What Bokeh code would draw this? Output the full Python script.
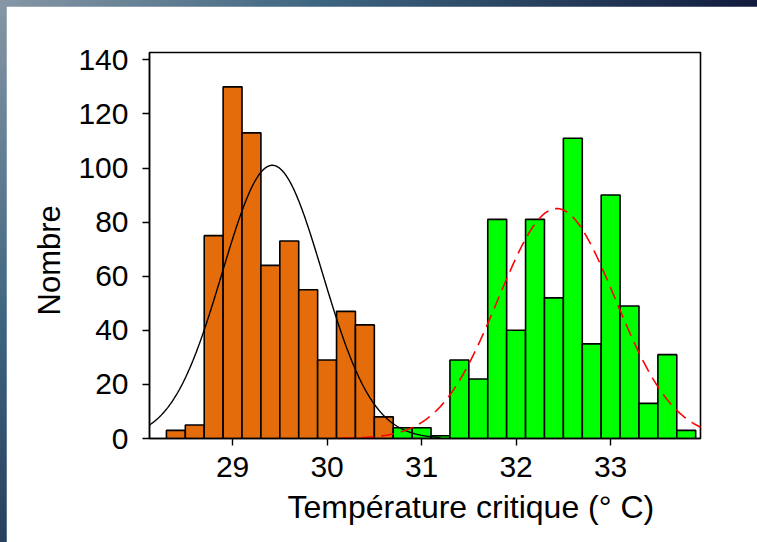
import numpy as np
from bokeh.plotting import figure
from bokeh.layouts import column
from bokeh.models import ColumnDataSource, FixedTicker, Title
from bokeh.embed import file_html
from bokeh.resources import INLINE

# ---- data ----
bin_width = 0.2
orange_left = [28.3, 28.5, 28.7, 28.9, 29.1, 29.3, 29.5, 29.7, 29.9, 30.1, 30.3, 30.5]
orange_counts = [3, 5, 75, 130, 113, 64, 73, 55, 29, 47, 42, 8]
green_left = [30.7, 30.9, 31.1, 31.3, 31.5, 31.7, 31.9, 32.1, 32.3, 32.5, 32.7, 32.9,
              33.1, 33.3, 33.5, 33.7]
green_counts = [4, 4, 1, 29, 22, 81, 40, 81, 52, 111, 35, 90, 49, 13, 31, 3]

x_ticks = [29, 30, 31, 32, 33]
y_ticks = [0, 20, 40, 60, 80, 100, 120, 140]

# fitted normal curves (mean, sd, peak height)
black_mean, black_sd, black_peak = 29.42, 0.53, 101
black_from, black_to = 27.9, 31.2
red_mean, red_sd, red_peak = 32.43, 0.62, 85
red_from, red_to = 30.15, 34.1

x_label = "Température critique (° C)"
y_label = "Nombre"

FONT = "Liberation Sans"

p = figure(width=751, height=536, x_range=(28.121, 33.951), y_range=(0, 142.7),
           output_backend="svg", toolbar_location=None,
           min_border_left=143, min_border_right=57, min_border_top=46, min_border_bottom=104,
           margin=(6, 0, 0, 6))
p.background_fill_color = "white"
p.border_fill_color = "white"
p.outline_line_color = "black"
p.outline_line_width = 1.6
p.xgrid.visible = False
p.ygrid.visible = False

osrc = ColumnDataSource(dict(left=orange_left,
                             right=[v + bin_width for v in orange_left],
                             top=orange_counts))
gsrc = ColumnDataSource(dict(left=green_left,
                             right=[v + bin_width for v in green_left],
                             top=green_counts))
p.quad(left="left", right="right", bottom=0, top="top", source=osrc,
       fill_color="#E46C0A", line_color="black", line_width=1.6)
p.quad(left="left", right="right", bottom=0, top="top", source=gsrc,
       fill_color="#00FF00", line_color="black", line_width=1.6)

bx = np.linspace(black_from, black_to, 400)
by = black_peak * np.exp(-0.5 * ((bx - black_mean) / black_sd) ** 2)
p.line(bx, by, line_color="black", line_width=1.4)

rx = np.linspace(red_from, red_to, 400)
ry = red_peak * np.exp(-0.5 * ((rx - red_mean) / red_sd) ** 2)
p.line(rx, ry, line_color="#FF0000", line_width=1.6, line_dash="13 7")

for ax in (p.xaxis[0], p.yaxis[0]):
    ax.major_label_text_font = FONT
    ax.major_label_text_font_size = "30px"
    ax.major_label_text_color = "black"
    ax.major_tick_in = 0
    ax.major_tick_out = 7
    ax.major_tick_line_width = 1.4
    ax.minor_tick_line_color = None
    ax.axis_line_color = "black"
    ax.axis_line_width = 1.4

p.xaxis.ticker = FixedTicker(ticks=x_ticks)
p.yaxis.ticker = FixedTicker(ticks=y_ticks)
p.xaxis.major_label_standoff = 11
p.yaxis.major_label_standoff = 14

tx = Title(text=x_label, align="left", offset=138, standoff=15,
           text_font=FONT, text_font_size="32px", text_font_style="normal",
           text_color="black")
p.add_layout(tx, "below")
ty = Title(text=y_label, align="left", offset=123, standoff=17,
           text_font=FONT, text_font_size="31px", text_font_style="normal",
           text_color="black")
p.add_layout(ty, "left")

page = column(p, width=757, height=542,
              styles={"background": "linear-gradient(135deg, #8797a6 0%, #3d6580 25%, #10183a 60%, #080a24 100%)"})

open("out.html", "w").write(file_html(page, INLINE))
